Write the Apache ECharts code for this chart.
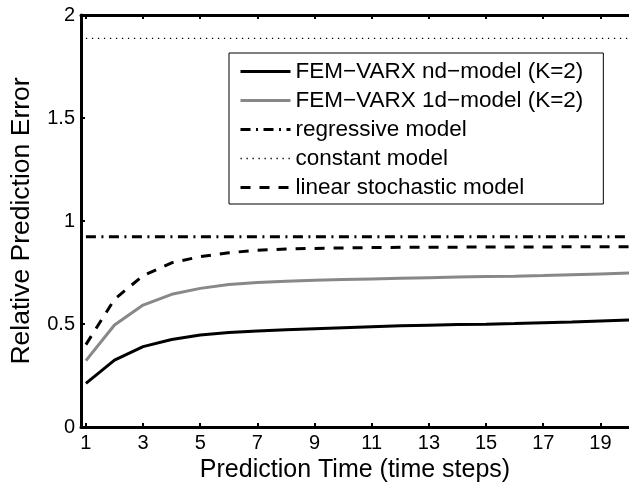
<!DOCTYPE html>
<html>
<head>
<meta charset="utf-8">
<script src="https://cdn.jsdelivr.net/npm/echarts@6/dist/echarts.min.js"></script>
<style>
  html, body { margin: 0; padding: 0; background: #fff; }
  #chart { width: 629px; height: 489px; }
</style>
</head>
<body>
<div id="chart"></div>
<script>
// prediction horizon (time steps)
const steps = [1, 2, 3, 4, 5, 6, 7, 8, 9, 10, 11, 12, 13, 14, 15, 16, 17, 18, 19, 20];
const xTicks = [1, 3, 5, 7, 9, 11, 13, 15, 17, 19];

// relative prediction error per model
const ndModel = [0.212, 0.325, 0.39, 0.425, 0.447, 0.459, 0.466, 0.472, 0.477, 0.482,
  0.487, 0.491, 0.494, 0.497, 0.499, 0.502, 0.506, 0.51, 0.515, 0.52];
const oneDModel = [0.322, 0.495, 0.592, 0.644, 0.673, 0.692, 0.701, 0.707, 0.712, 0.716,
  0.719, 0.722, 0.725, 0.728, 0.73, 0.732, 0.735, 0.739, 0.743, 0.747];
const regressive = [0.924, 0.924, 0.924, 0.924, 0.924, 0.924, 0.924, 0.924, 0.924, 0.924,
  0.924, 0.924, 0.924, 0.924, 0.924, 0.924, 0.924, 0.924, 0.924, 0.924];
const constant = [1.887, 1.887, 1.887, 1.887, 1.887, 1.887, 1.887, 1.887, 1.887, 1.887,
  1.887, 1.887, 1.887, 1.887, 1.887, 1.887, 1.887, 1.887, 1.887, 1.887];
const linearStoch = [0.40, 0.62, 0.735, 0.797, 0.827, 0.846, 0.858, 0.864, 0.867, 0.869,
  0.871, 0.872, 0.873, 0.873, 0.874, 0.874, 0.874, 0.875, 0.875, 0.875];

const names = [
  'FEM\u2212VARX nd\u2212model (K=2)',
  'FEM\u2212VARX 1d\u2212model (K=2)',
  'regressive model',
  'constant model',
  'linear stochastic model'
];

const FONT = 'Liberation Sans, Arial, Helvetica, sans-serif';
const pairs = vals => steps.map((s, i) => [s, vals[i]]);

const lineSeries = (name, vals, color, width, type) => ({
  name,
  type: 'line',
  data: pairs(vals),
  symbol: 'none',
  lineStyle: { color, width, type, cap: 'butt' },
  itemStyle: { color },
  z: 3
});

const axisBase = {
  type: 'value',
  min: 0.828,
  max: 20,
  axisLine: { lineStyle: { color: '#000', width: 3 } },
  axisTick: { inside: true, length: 4, customValues: xTicks, lineStyle: { color: '#000', width: 2 } },
  splitLine: { show: false }
};

const chart = echarts.init(document.getElementById('chart'));

chart.setOption({
  animation: false,
  backgroundColor: '#fff',
  textStyle: { fontFamily: FONT, color: '#000' },
  grid: { left: 81, top: 15, bottom: 62, right: -8 },
  xAxis: [
    Object.assign({}, axisBase, {
      position: 'bottom',
      name: 'Prediction Time (time steps)',
      nameLocation: 'middle',
      nameGap: 29,
      nameTextStyle: { fontSize: 25, color: '#000', fontFamily: FONT },
      axisLabel: { customValues: xTicks, fontSize: 20, color: '#000', margin: 6, fontFamily: FONT }
    }),
    Object.assign({}, axisBase, {
      position: 'top',
      axisLabel: { show: false }
    })
  ],
  yAxis: {
    type: 'value',
    min: 0,
    max: 2,
    interval: 0.5,
    name: 'Relative Prediction Error',
    nameLocation: 'middle',
    nameGap: 46,
    nameTextStyle: { fontSize: 26.5, color: '#000', fontFamily: FONT },
    axisLine: { show: true, lineStyle: { color: '#000', width: 3 } },
    axisTick: { show: true, inside: true, length: 4, lineStyle: { color: '#000', width: 2 } },
    axisLabel: { fontSize: 20, color: '#000', margin: 6, fontFamily: FONT },
    splitLine: { show: false }
  },
  legend: {
    orient: 'vertical',
    left: 229,
    top: 53,
    padding: [7, 20, 5, 10],
    itemWidth: 50,
    itemHeight: 14,
    itemGap: 6,
    backgroundColor: '#fff',
    borderColor: '#000',
    borderWidth: 1,
    borderRadius: 0,
    lineStyle: { width: 'inherit' },
    itemStyle: { opacity: 0 },
    textStyle: { fontSize: 22.5, lineHeight: 22, color: '#000', fontFamily: FONT },
    data: names
  },
  series: [
    lineSeries(names[0], ndModel, '#000', 3, 'solid'),
    lineSeries(names[1], oneDModel, '#888', 3, 'solid'),
    lineSeries(names[2], regressive, '#000', 3, [10, 5.5, 2, 5.5]),
    lineSeries(names[3], constant, '#000', 1.3, [1.3, 4.7]),
    lineSeries(names[4], linearStoch, '#000', 3, [10, 9])
  ]
});
</script>
</body>
</html>
